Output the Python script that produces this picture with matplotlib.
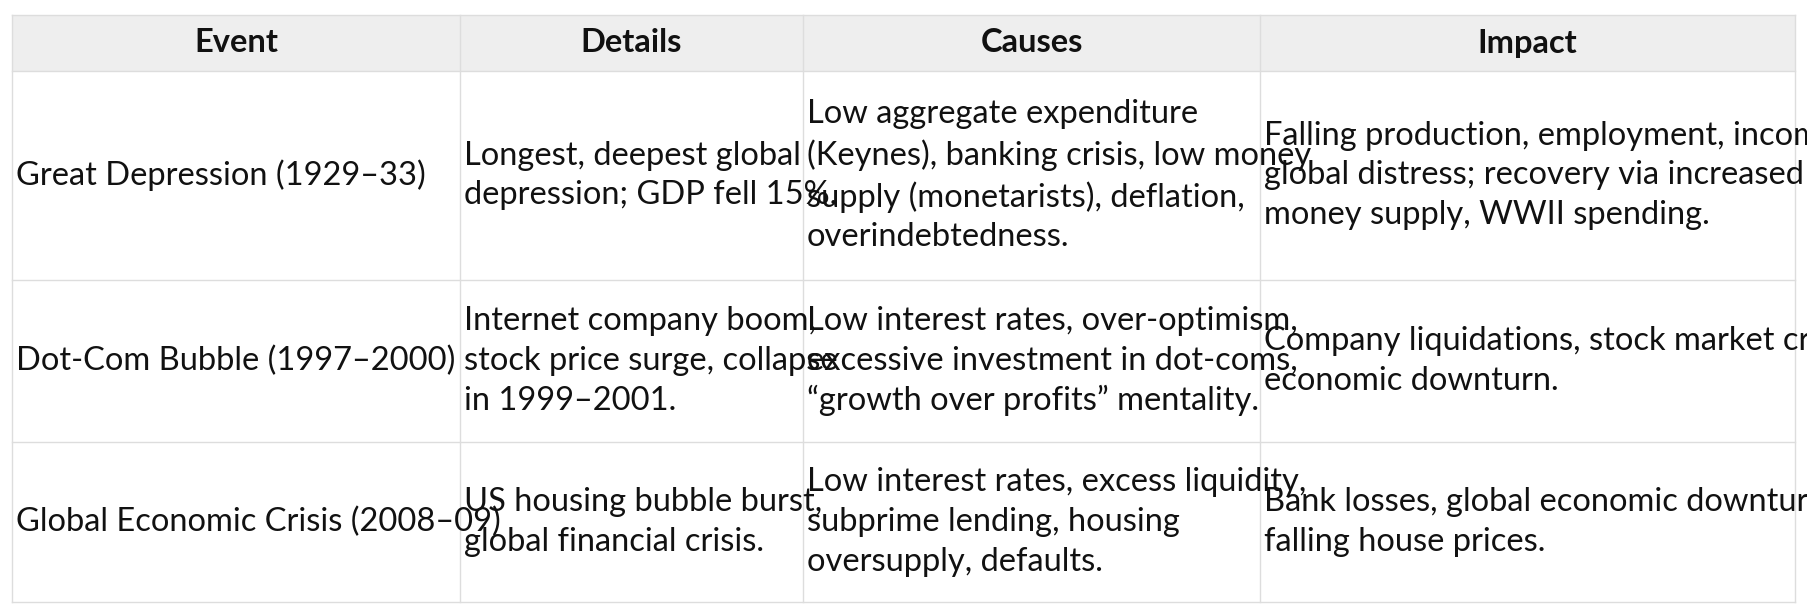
import matplotlib
matplotlib.use("Agg")
import matplotlib.pyplot as plt

headers = ["Event", "Details", "Causes", "Impact"]
events = ["Great Depression (1929–33)", "Dot-Com Bubble (1997–2000)", "Global Economic Crisis (2008–09)"]
details = ["Longest, deepest global\ndepression; GDP fell 15%.",
           "Internet company boom,\nstock price surge, collapse\nin 1999–2001.",
           "US housing bubble burst,\nglobal financial crisis."]
causes = ["Low aggregate expenditure\n(Keynes), banking crisis, low money\nsupply (monetarists), deflation,\noverindebtedness.",
          "Low interest rates, over-optimism,\nexcessive investment in dot-coms,\n“growth over profits” mentality.",
          "Low interest rates, excess liquidity,\nsubprime lending, housing\noversupply, defaults."]
impacts = ["Falling production, employment, income;\nglobal distress; recovery via increased\nmoney supply, WWII spending.",
           "Company liquidations, stock market crash,\neconomic downturn.",
           "Bank losses, global economic downturn,\nfalling house prices."]

W, H = 1807, 614
fig = plt.figure(figsize=(W/100, H/100), dpi=100)
ax = fig.add_axes([0, 0, 1, 1])
ax.set_xlim(0, W); ax.set_ylim(H, 0); ax.axis("off")

cols = [12, 460, 803, 1260, 1795]
rows = [15, 71, 280, 442, 602]
border = "#dddddd"
ax.add_patch(plt.Rectangle((cols[0], rows[0]), cols[-1]-cols[0], rows[1]-rows[0], color="#eeeeee", lw=0))
for x in cols:
    ax.plot([x, x], [rows[0], rows[-1]], color=border, lw=1)
for y in rows:
    ax.plot([cols[0], cols[-1]], [y, y], color=border, lw=1)

font = "Lato"
fs = 23.5
for i, h in enumerate(headers):
    ax.text((cols[i]+cols[i+1])/2, (rows[0]+rows[1])/2, h, ha="center", va="center",
            fontsize=fs, fontweight="bold", family=font, color="#111111")
for r, vals in enumerate(zip(events, details, causes, impacts)):
    yc = (rows[r+1]+rows[r+2])/2
    for c, t in enumerate(vals):
        ax.text(cols[c]+4, yc, t, ha="left", va="center", fontsize=fs, family=font,
                color="#111111", linespacing=1.4)
fig.savefig("out.png", dpi=100)
